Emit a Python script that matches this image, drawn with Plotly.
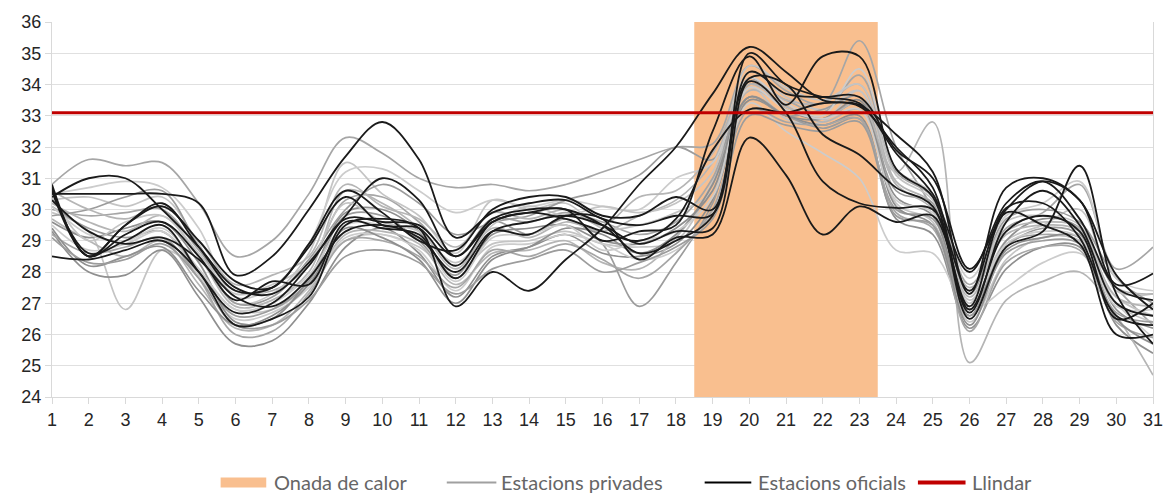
import plotly.graph_objects as go

dies = list(range(1, 32))
tick_y = list(range(24, 37))
onada_inici = 18.5
onada_fi = 23.5
llindar = 33.1
y_min, y_max = 24, 36

legend_labels = ['Onada de calor', 'Estacions privades', 'Estacions oficials', 'Llindar']

# Estacions oficials (black)
oficial_1 = [30.5, 30.5, 30.5, 30.5, 30.2, 27.9, 28.5, 30.0, 31.7, 32.8, 31.6, 29.1, 29.9, 30.2, 30.3, 29.7, 29.5, 29.8, 29.85, 34.4, 33.7, 33.6, 33.6, 31.9, 31.0, 28.1, 30.0, 30.9, 30.3, 27.6, 27.95]
oficial_2 = [30.4, 31.0, 31.0, 30.0, 28.8, 27.5, 27.3, 28.3, 29.8, 31.0, 30.3, 28.5, 29.7, 30.0, 30.0, 29.5, 28.6, 29.0, 29.8, 34.2, 34.0, 32.4, 31.75, 30.7, 30.1, 26.7, 29.6, 30.6, 29.5, 27.0, 26.6]
oficial_3 = [28.5, 28.4, 28.7, 29.0, 28.0, 26.3, 26.5, 27.2, 29.5, 29.7, 29.4, 26.9, 28.0, 27.4, 28.4, 29.4, 30.8, 32.0, 33.7, 35.2, 34.4, 33.5, 33.35, 32.4, 31.2, 27.3, 30.7, 31.0, 30.3, 27.9, 26.8]
oficial_4 = [30.8, 28.5, 29.5, 30.2, 28.8, 27.4, 27.5, 28.8, 30.4, 29.5, 29.4, 28.2, 29.6, 29.9, 30.0, 29.0, 29.3, 29.5, 32.5, 34.9, 33.35, 34.9, 34.9, 31.3, 30.4, 26.5, 28.8, 29.3, 31.4, 27.3, 25.7]
oficial_5 = [30.7, 28.5, 29.2, 29.6, 28.5, 27.1, 27.7, 27.6, 29.6, 29.4, 29.2, 27.8, 29.3, 29.6, 29.8, 29.5, 28.9, 29.3, 29.4, 34.1, 33.1, 30.9, 30.2, 30.05, 30.0, 27.4, 30.05, 30.2, 29.1, 26.6, 26.3]
oficial_6 = [30.6, 28.6, 29.0, 29.5, 28.0, 26.7, 27.0, 28.2, 29.7, 29.6, 29.5, 28.5, 29.6, 29.9, 29.7, 29.3, 29.0, 29.7, 31.9, 33.2, 33.1, 33.4, 33.3, 32.0, 30.7, 26.8, 29.3, 29.8, 29.3, 26.5, 27.0]
oficial_7 = [30.3, 29.3, 28.9, 29.1, 28.4, 27.2, 26.9, 27.8, 29.3, 29.5, 29.1, 28.0, 29.3, 29.2, 29.8, 29.7, 28.4, 29.1, 29.2, 32.3, 31.1, 29.2, 30.1, 29.6, 29.8, 26.9, 29.9, 29.5, 28.9, 26.0, 26.0]
oficial_8 = [30.6, 28.5, 29.5, 30.1, 29.0, 27.7, 27.5, 28.9, 30.6, 29.9, 29.0, 28.7, 30.0, 30.4, 30.4, 29.8, 29.8, 30.4, 30.0, 35.0, 34.0, 33.6, 33.4, 31.8, 30.5, 28.0, 30.2, 30.9, 29.7, 27.5, 27.1]

# Estacions privades (grey)
privada_01 = [30.8, 31.6, 31.4, 31.5, 30.2, 28.5, 29.0, 30.5, 32.3, 31.8, 31.0, 30.7, 30.8, 30.6, 30.8, 31.2, 31.6, 32.0, 32.1, 34.6, 33.8, 33.4, 35.4, 32.0, 30.0, 26.8, 28.9, 29.2, 29.0, 27.5, 26.3]
privada_02 = [29.9, 29.3, 26.8, 28.7, 28.0, 26.8, 26.8, 27.6, 29.0, 29.2, 28.8, 28.0, 28.9, 29.0, 29.3, 28.9, 28.8, 29.0, 30.9, 33.9, 32.9, 32.8, 33.8, 30.2, 29.6, 26.4, 28.4, 29.1, 29.0, 27.2, 26.6]
privada_03 = [29.3, 28.0, 27.9, 28.7, 27.2, 25.7, 25.8, 27.0, 28.8, 29.4, 28.6, 27.2, 28.5, 28.8, 29.2, 28.6, 28.5, 28.9, 30.3, 33.5, 33.0, 32.7, 33.0, 29.7, 29.2, 26.2, 28.1, 28.8, 28.8, 26.3, 25.4]
privada_04 = [29.7, 29.0, 28.5, 29.0, 27.6, 26.2, 26.3, 27.4, 29.2, 29.3, 28.9, 27.6, 28.6, 28.7, 29.0, 28.3, 28.1, 29.1, 30.8, 33.8, 33.3, 32.8, 33.2, 31.2, 32.8, 25.1, 27.1, 27.7, 28.0, 26.6, 24.7]
privada_05 = [30.1, 29.4, 29.1, 29.3, 28.0, 26.6, 26.8, 27.7, 29.8, 29.8, 29.0, 27.9, 29.6, 29.2, 29.7, 28.9, 26.9, 28.3, 30.2, 33.6, 33.0, 32.6, 32.9, 30.0, 29.7, 26.9, 28.8, 29.4, 29.2, 27.0, 26.6]
privada_06 = [29.5, 28.7, 28.9, 29.3, 27.9, 26.5, 26.7, 27.5, 29.1, 29.2, 28.7, 27.4, 28.8, 28.9, 29.2, 28.9, 28.4, 28.7, 29.9, 33.4, 32.5, 31.8, 31.0, 28.7, 28.6, 26.8, 27.5, 28.3, 28.6, 27.0, 25.9]
privada_07 = [30.0, 29.8, 29.9, 30.0, 28.7, 27.4, 27.4, 28.2, 30.3, 30.4, 29.6, 28.5, 29.7, 29.6, 29.9, 29.6, 29.2, 29.6, 31.0, 34.0, 33.5, 33.1, 34.3, 31.2, 30.4, 27.6, 29.4, 29.9, 30.8, 28.1, 28.8]
privada_08 = [30.3, 30.4, 30.1, 30.4, 28.9, 27.0, 27.3, 28.6, 31.5, 30.5, 29.8, 28.6, 30.3, 30.0, 30.2, 29.4, 29.5, 29.9, 30.6, 34.4, 33.6, 33.2, 33.8, 30.8, 30.1, 27.1, 29.0, 29.5, 30.0, 27.4, 27.3]
privada_09 = [29.6, 29.1, 29.4, 29.6, 28.3, 26.4, 26.5, 27.8, 29.9, 30.0, 29.3, 27.8, 29.2, 29.4, 29.5, 29.0, 28.9, 29.4, 30.6, 34.2, 33.2, 32.9, 33.4, 30.4, 29.8, 26.6, 29.0, 29.7, 29.4, 26.8, 26.2]
privada_10 = [30.2, 29.6, 29.3, 29.8, 28.5, 26.9, 27.1, 28.0, 30.6, 30.2, 29.4, 28.1, 29.4, 29.1, 29.6, 29.3, 29.8, 30.3, 31.5, 34.1, 33.5, 33.4, 34.0, 30.9, 30.2, 27.5, 29.2, 29.5, 29.3, 27.2, 26.9]
privada_11 = [29.8, 30.0, 30.4, 30.6, 28.8, 27.0, 27.2, 28.4, 30.0, 30.8, 30.2, 29.2, 29.6, 29.8, 30.3, 30.6, 31.1, 32.0, 31.6, 33.6, 33.0, 33.2, 33.6, 30.6, 30.2, 27.3, 29.7, 30.0, 29.6, 27.8, 27.0]
privada_12 = [30.5, 30.7, 30.9, 30.7, 29.4, 27.2, 27.5, 28.9, 31.2, 31.3, 30.6, 29.9, 30.3, 30.1, 30.3, 30.1, 30.0, 31.0, 31.5, 34.2, 33.4, 33.0, 34.5, 31.3, 30.5, 27.8, 29.8, 30.2, 30.9, 27.8, 27.4]
privada_13 = [29.2, 28.6, 28.8, 29.1, 27.8, 26.0, 26.1, 27.3, 29.0, 29.0, 28.5, 27.5, 28.7, 28.5, 28.9, 28.4, 27.8, 28.6, 30.0, 33.2, 32.8, 32.7, 32.9, 29.9, 29.4, 26.1, 28.3, 28.8, 28.7, 26.4, 25.9]
privada_14 = [30.4, 29.0, 29.6, 29.8, 28.6, 27.3, 27.6, 28.3, 30.2, 29.6, 29.3, 28.3, 29.5, 30.1, 29.8, 30.1, 29.9, 30.2, 31.2, 34.6, 33.9, 33.5, 34.0, 31.1, 30.3, 27.0, 29.6, 29.8, 29.5, 27.0, 26.4]
privada_15 = [29.4, 28.2, 28.5, 28.8, 27.4, 26.3, 26.6, 27.6, 29.4, 29.1, 28.4, 27.0, 28.4, 28.8, 29.4, 29.2, 28.6, 29.2, 30.8, 33.6, 33.0, 32.9, 33.5, 30.1, 29.5, 26.3, 28.7, 29.1, 29.1, 26.5, 25.7]
privada_16 = [30.6, 30.0, 29.7, 30.1, 29.0, 27.6, 27.9, 28.5, 30.8, 30.1, 29.7, 28.8, 29.9, 29.7, 30.0, 29.5, 30.4, 30.6, 31.8, 34.0, 33.3, 32.9, 33.4, 30.8, 30.0, 27.2, 29.3, 29.6, 29.4, 27.5, 27.3]
privada_17 = [29.1, 28.3, 28.4, 28.9, 27.8, 26.3, 26.3, 27.1, 28.5, 28.7, 28.3, 27.3, 28.1, 28.4, 28.7, 28.0, 28.3, 28.8, 29.7, 33.0, 32.7, 32.5, 32.8, 29.8, 29.5, 26.6, 28.6, 29.0, 28.9, 26.7, 26.4]
privada_18 = [30.1, 29.2, 29.0, 29.4, 28.1, 26.8, 27.0, 27.9, 29.5, 29.5, 29.1, 27.7, 29.1, 29.2, 29.5, 28.7, 29.0, 29.3, 30.4, 33.9, 33.2, 32.9, 33.2, 30.3, 29.9, 26.9, 28.9, 29.3, 29.1, 26.9, 26.8]

oficials = [oficial_1, oficial_2, oficial_3, oficial_4, oficial_5, oficial_6, oficial_7, oficial_8]
privades = [privada_01, privada_02, privada_03, privada_04, privada_05, privada_06, privada_07, privada_08, privada_09,
            privada_10, privada_11, privada_12, privada_13, privada_14, privada_15, privada_16, privada_17, privada_18]

grey_shades = ['#a6a6a6', '#c4c4c4', '#8f8f8f', '#b5b5b5', '#9c9c9c', '#cccccc']
col_onada = '#F9BF8F'
col_oficial = '#1a1a1a'
col_privada = '#a0a0a0'
col_llindar = '#C00000'

fig = go.Figure()

# Heat wave band (filled polygon: above gridlines, below the lines)
fig.add_trace(go.Scatter(
    x=[onada_inici, onada_fi, onada_fi, onada_inici, onada_inici],
    y=[y_min, y_min, y_max, y_max, y_min],
    fill='toself', fillcolor=col_onada, mode='lines', line=dict(width=0, color=col_onada),
    name=legend_labels[0], showlegend=False, hoverinfo='skip'))

for i, s in enumerate(privades):
    fig.add_trace(go.Scatter(
        x=dies, y=s, mode='lines',
        line=dict(color=grey_shades[i % len(grey_shades)], width=1.7, shape='spline', smoothing=1.0),
        name=legend_labels[1], showlegend=False))
for s in oficials:
    fig.add_trace(go.Scatter(
        x=dies, y=s, mode='lines', line=dict(color=col_oficial, width=1.8, shape='spline', smoothing=1.0),
        name=legend_labels[2], showlegend=False))

fig.add_trace(go.Scatter(x=[dies[0], dies[-1]], y=[llindar, llindar], mode='lines',
                         line=dict(color=col_llindar, width=3), name=legend_labels[3], showlegend=False))

# ---- custom legend (swatches + text) below the plot ----
L, R, B, H = 52, 13, 397, 377
W = 1175 - L - R
def px(xp):
    return (xp - L) / W
def py(yp):
    return (B - yp) / H

leg_y = 483
leg_font = dict(family='Lato, Open Sans, sans-serif', size=20, color='#666666')
shapes = [
    dict(type='rect', xref='paper', yref='paper', x0=px(222), x1=px(268), y0=py(leg_y + 5), y1=py(leg_y - 5),
         fillcolor=col_onada, line=dict(width=0)),
    dict(type='line', xref='paper', yref='paper', x0=px(450), x1=px(500), y0=py(leg_y), y1=py(leg_y),
         line=dict(color=col_privada, width=2)),
    dict(type='line', xref='paper', yref='paper', x0=px(710), x1=px(757), y0=py(leg_y), y1=py(leg_y),
         line=dict(color='#000000', width=2)),
    dict(type='line', xref='paper', yref='paper', x0=px(925), x1=px(973), y0=py(leg_y), y1=py(leg_y),
         line=dict(color=col_llindar, width=4)),
]
text_x = [274, 503, 762, 977]
annotations = [dict(xref='paper', yref='paper', x=px(tx), y=py(leg_y - 1), text=t, showarrow=False,
                    xanchor='left', yanchor='middle', font=leg_font)
               for tx, t in zip(text_x, legend_labels)]

fig.update_layout(
    width=1175, height=497,
    margin=dict(l=L, r=R, t=20, b=100),
    paper_bgcolor='white', plot_bgcolor='white',
    showlegend=False,
    shapes=shapes, annotations=annotations,
    xaxis=dict(range=[dies[0], dies[-1]], tickmode='array', tickvals=dies, ticktext=[str(d) for d in dies],
               showgrid=False, zeroline=False, showline=True, linecolor='#d9d9d9', linewidth=1,
               ticks='outside', ticklen=6, tickcolor='#d9d9d9',
               tickfont=dict(family='Liberation Sans, Arial', size=18, color='#262626')),
    yaxis=dict(range=[y_min, y_max], tickmode='array', tickvals=tick_y,
               showgrid=True, gridcolor='#e0e0e0', gridwidth=1, zeroline=False,
               showline=True, mirror=True, linecolor='#d9d9d9', linewidth=1,
               ticks='outside', ticklen=6, tickcolor='#d9d9d9',
               tickfont=dict(family='Liberation Sans, Arial', size=18, color='#262626')),
)

fig.write_html('out.html')
